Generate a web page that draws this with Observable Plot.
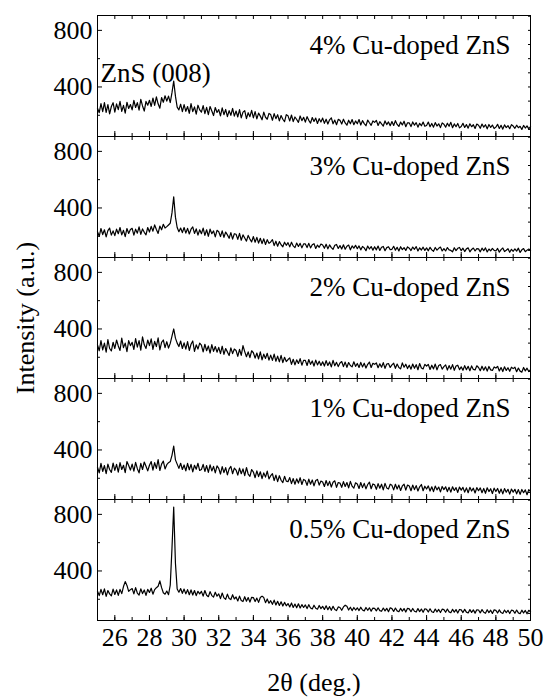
<!DOCTYPE html>
<html>
<head>
<meta charset="utf-8">
<script src="https://cdn.jsdelivr.net/npm/d3@7"></script>
<script src="https://cdn.jsdelivr.net/npm/@observablehq/plot@0.6"></script>
<style>
  @font-face { font-family: "ChartSerif"; src: local("Liberation Serif"), local("LiberationSerif"), local("LiberationSerif-Regular"), local("Tinos"), local("Times New Roman"), local("FreeSerif"); }
</style>
</head>
<body style="margin:0;background:#fff">
<div id="chart"></div>
<script>
// Panel labels (top to bottom)
const samples = ["4% Cu-doped ZnS", "3% Cu-doped ZnS", "2% Cu-doped ZnS", "1% Cu-doped ZnS", "0.5% Cu-doped ZnS"];

// 2θ grid: 25.0 .. 50.0 in 0.1° steps (10 readings per degree row below)
const twoTheta = d3.range(251).map(i => 25 + i / 10);

// Intensity readings (a.u.), one row per degree
const int4 = [
  250,218,282,226,290,221,275,210,262,289,
  222,281,240,299,228,270,215,292,248,276,
  238,305,255,289,236,312,266,230,298,271,
  306,262,322,270,330,281,250,325,292,338,
  300,335,290,360,442,335,258,238,278,226,
  275,228,262,214,282,226,259,208,271,238,
  222,268,212,256,204,262,230,198,255,220,
  240,196,252,204,241,190,233,200,248,194,
  230,188,240,182,222,232,176,218,190,235,
  182,226,174,215,194,168,222,186,172,213,
  205,165,212,176,204,160,198,172,155,204,
  196,160,202,155,188,170,150,195,162,186,
  152,190,164,145,184,156,180,142,176,152,
  180,143,172,138,168,182,140,166,133,171,
  164,138,172,146,130,165,140,170,133,160,
  140,170,131,162,141,126,166,147,129,160,
  150,164,128,155,139,124,160,134,153,126,
  156,128,162,135,121,152,132,158,119,147,
  146,120,153,130,148,116,143,126,152,122,
  128,152,119,142,116,148,124,140,113,146,
  137,116,144,122,150,112,139,119,142,111,
  121,143,114,134,109,140,119,133,107,138,
  130,108,138,116,133,104,135,114,131,106,
  116,136,107,129,102,132,113,127,105,134,
  124,108,130,112,122,100,128,110,125,104,
  119
];
const int3 = [
  232,200,255,212,246,196,240,258,208,238,
  205,250,218,262,210,242,198,255,220,248,
  256,208,250,222,266,214,252,228,210,262,
  230,270,236,280,248,220,272,246,285,258,
  268,280,292,365,479,335,262,232,258,226,
  262,222,256,216,250,266,220,252,208,246,
  218,258,206,246,200,250,218,238,196,242,
  232,198,238,192,230,210,186,226,180,218,
  214,178,220,172,210,188,166,206,180,160,
  198,158,192,152,186,148,182,142,176,150,
  160,176,134,165,130,162,140,126,158,136,
  155,125,158,132,120,152,128,150,118,146,
  146,120,150,118,140,148,114,138,122,145,
  138,115,144,111,139,120,108,136,142,114,
  134,110,140,108,130,138,104,132,116,136,
  112,132,104,128,118,98,131,110,127,102,
  126,104,131,100,122,128,98,120,126,106,
  108,129,102,122,96,126,106,120,100,125,
  116,99,124,108,127,96,118,103,123,100,
  118,97,122,104,94,121,102,115,124,96,
  113,96,120,104,100,90,119,99,115,121,
  98,116,92,111,118,90,107,117,96,113,
  111,90,116,98,118,89,110,97,114,100,
  96,114,88,106,117,92,101,112,87,108,
  94,111,95,116,86,104,113,91,102,110,
  101
];
const int2 = [
  288,246,318,252,300,236,325,262,245,306,
  262,322,280,248,335,268,300,240,318,282,
  306,255,332,272,318,250,345,288,262,322,
  282,330,256,312,276,338,252,305,322,268,
  310,265,298,350,400,335,300,276,315,262,
  302,258,310,248,292,315,242,288,258,300,
  285,238,292,246,280,230,290,242,276,236,
  270,226,278,220,262,238,212,266,226,258,
  248,206,256,214,282,240,204,238,198,246,
  232,194,230,188,238,182,222,192,228,180,
  215,178,222,172,208,168,214,162,200,170,
  184,196,150,186,146,182,156,190,144,178,
  178,142,184,150,174,138,180,146,172,142,
  168,138,176,142,167,132,178,140,164,134,
  160,170,134,166,129,163,142,132,168,136,
  156,128,164,132,158,124,150,166,128,157,
  150,160,126,154,130,162,122,152,156,128,
  146,158,122,152,128,118,160,130,151,120,
  144,116,152,122,148,112,156,124,118,150,
  138,150,114,144,118,152,111,142,148,116,
  134,146,110,141,116,148,108,138,144,113,
  132,108,141,112,136,105,139,114,110,140,
  128,105,137,109,133,102,135,111,107,132,
  124,136,103,128,99,133,107,126,101,130,
  120,130,98,124,102,95,128,104,123,99,
  113
];
const int1 = [
  278,238,305,248,290,232,300,262,242,308,
  256,298,244,310,262,292,240,318,290,258,
  300,250,312,268,238,305,262,315,285,252,
  292,318,258,310,270,332,255,300,322,266,
  296,310,318,362,428,330,300,270,306,262,
  294,252,305,260,298,245,292,264,306,255,
  262,298,248,290,242,295,252,284,238,288,
  270,230,282,240,275,224,266,284,232,272,
  258,222,272,232,266,218,276,230,214,262,
  244,204,252,212,246,198,238,208,250,196,
  218,232,184,222,176,218,186,170,214,180,
  176,205,162,198,158,196,166,204,156,192,
  184,150,194,158,188,146,184,192,152,180,
  174,142,184,148,178,138,172,182,136,170,
  166,136,176,142,170,132,178,144,130,168,
  160,128,170,134,164,125,156,172,126,160,
  154,122,162,130,158,118,164,132,124,158,
  150,118,158,124,152,114,146,158,116,152,
  145,112,152,120,148,110,140,156,112,144,
  124,146,110,140,106,145,118,138,104,142,
  120,140,106,136,102,140,114,134,100,138,
  116,136,102,132,98,136,110,130,96,134,
  112,132,98,128,94,133,106,126,92,130,
  106,128,94,124,90,127,102,122,88,124,
  102,122,90,120,86,121,98,118,84,120,
  106
];
const int05 = [
  256,226,270,232,274,220,262,238,224,272,
  234,266,228,270,240,290,325,298,256,268,
  276,238,282,244,230,274,240,266,228,270,
  248,278,236,268,282,292,330,282,246,236,
  258,232,300,560,851,455,272,250,276,242,
  272,238,268,232,266,230,262,226,256,238,
  256,222,262,228,218,254,226,216,250,222,
  238,205,244,210,200,236,206,198,232,202,
  216,188,222,192,184,218,186,212,180,214,
  212,184,208,178,212,222,212,176,202,172,
  190,164,194,160,186,156,182,152,178,154,
  170,146,174,142,166,140,168,138,162,142,
  160,134,162,138,132,158,136,130,156,134,
  150,128,154,126,148,122,150,128,120,146,
  142,122,146,158,150,124,144,120,142,124,
  140,120,144,124,118,142,122,140,116,138,
  136,118,140,120,115,138,118,136,112,140,
  134,114,138,118,112,136,116,134,110,136,
  132,112,135,115,110,134,113,131,108,133,
  129,110,133,112,107,131,111,128,106,130,
  127,108,131,111,105,129,109,127,103,128,
  125,106,129,109,103,127,107,125,102,126,
  124,104,127,108,101,126,106,123,100,125,
  122,103,125,106,100,124,105,122,99,123,
  120,101,124,104,98,123,103,121,97,122,
  112
];

// Axis ticks
const xTickLabels = [26, 28, 30, 32, 34, 36, 38, 40, 42, 44, 46, 48, 50];
const xMinorTicks = d3.range(25, 51, 1);
const yTickLabels = [400, 800];
const yMinorTicks = [200, 600];
const yRightTicks = [100, 200, 300, 400, 500, 600, 700, 800, 900];

// Peak annotation
const peakLabel = [{sample: samples[0], text: "ZnS (008)", twoTheta: 28.35, intensity: 493}];

const series = [int4, int3, int2, int1, int05];
const data = samples.flatMap((s, k) => series[k].map((v, i) => ({sample: s, x: twoTheta[i], y: v})));

const font = '"Liberation Serif", ChartSerif, Tinos, "Times New Roman", FreeSerif, serif';

const chart = Plot.plot({
  width: 546,
  height: 698,
  marginLeft: 97,
  marginRight: 16,
  marginTop: 14,
  marginBottom: 78,
  style: {fontFamily: font, fontSize: "26px"},
  x: {domain: [25, 50]},
  y: {domain: [50, 905]},
  fy: {domain: samples, padding: 0},
  marks: [
    Plot.lineY(data, {x: "x", y: "y", fy: "sample", stroke: "black", strokeWidth: 1.2}),
    Plot.frame({stroke: "black", strokeWidth: 1}),
    Plot.axisFy({anchor: "left", ticks: [], tickSize: 0, label: "Intensity (a.u.)", labelAnchor: "center", labelOffset: 82, fontSize: 26, fontFamily: font}),
    Plot.axisY({ticks: yTickLabels, tickSize: 0, tickPadding: 5, label: null, fontSize: 26, fontFamily: font, fontVariant: "normal"}),
    Plot.axisY({ticks: yTickLabels, tickSize: -5, text: null, label: null}),
    Plot.axisY({ticks: yMinorTicks, tickSize: -3, text: null, label: null}),
    Plot.axisY({anchor: "right", ticks: yRightTicks, tickSize: -3, text: null, label: null}),
    Plot.axisX({ticks: xTickLabels, tickSize: 0, tickPadding: 7, label: "2θ (deg.)", labelAnchor: "center", labelArrow: "none", labelOffset: 70, fontSize: 26, fontFamily: font, fontVariant: "normal"}),
    Plot.axisX({ticks: xTickLabels, tickSize: -5, text: null, label: null, facetAnchor: null}),
    Plot.axisX({ticks: xMinorTicks, tickSize: -3, text: null, label: null, facetAnchor: null}),
    Plot.axisX({anchor: "top", ticks: xMinorTicks, tickSize: -3, text: null, label: null, facetAnchor: null}),
    Plot.text(samples, {fy: d => d, text: d => d, frameAnchor: "top-right", dx: -20, dy: 30, textAnchor: "end", lineAnchor: "middle", fontSize: 27, fontFamily: font}),
    Plot.text(peakLabel, {fy: "sample", x: "twoTheta", y: "intensity", text: "text", textAnchor: "middle", lineAnchor: "middle", fontSize: 27, fontFamily: font})
  ]
});
d3.select(chart).selectAll("text").attr("font-family", font);
document.getElementById("chart").appendChild(chart);
</script>
</body>
</html>
